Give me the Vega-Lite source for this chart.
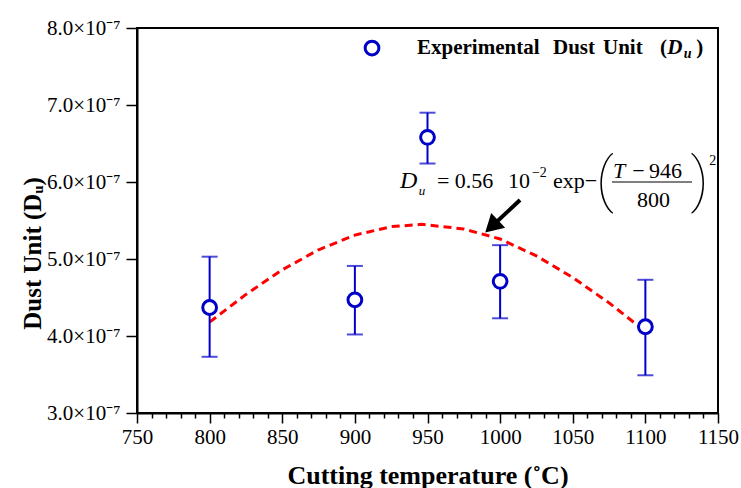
{
  "$schema": "https://vega.github.io/schema/vega-lite/v6.json",
  "width": 581,
  "height": 385,
  "autosize": {"type": "none"},
  "padding": {"left": 137, "top": 28, "right": 23, "bottom": 75},
  "background": "white",
  "config": {
    "font": "Liberation Serif",
    "view": {"stroke": "black", "strokeWidth": 2},
    "axis": {
      "domainColor": "black", "domainWidth": 2,
      "tickColor": "black", "tickWidth": 1.5,
      "labelColor": "black", "titleColor": "black",
      "labelFont": "Liberation Serif", "titleFont": "Liberation Serif",
      "grid": false
    }
  },
  "datasets": {
    "points": [
      {"T": 800, "Du": 4.37e-7, "lo": 3.73e-7, "hi": 5.03e-7},
      {"T": 900, "Du": 4.47e-7, "lo": 4.02e-7, "hi": 4.91e-7},
      {"T": 950, "Du": 6.58e-7, "lo": 6.24e-7, "hi": 6.90e-7},
      {"T": 1000, "Du": 4.71e-7, "lo": 4.23e-7, "hi": 5.18e-7},
      {"T": 1100, "Du": 4.12e-7, "lo": 3.49e-7, "hi": 4.73e-7}
    ],
    "curve": [
      {"T": 800, "Du": 4.18e-7}, {"T": 825, "Du": 4.54e-7}, {"T": 850, "Du": 4.86e-7},
      {"T": 875, "Du": 5.12e-7}, {"T": 900, "Du": 5.31e-7}, {"T": 925, "Du": 5.42e-7},
      {"T": 946, "Du": 5.45e-7}, {"T": 975, "Du": 5.39e-7}, {"T": 1000, "Du": 5.26e-7},
      {"T": 1025, "Du": 5.04e-7}, {"T": 1050, "Du": 4.76e-7}, {"T": 1075, "Du": 4.43e-7},
      {"T": 1100, "Du": 4.06e-7}
    ],
    "legendSym": [{"T": 911.8, "Du": 7.74e-7}],
    "legendBold": [
      {"T": 942.8, "Du": 7.662e-7, "t": "Experimental"},
      {"T": 1036.4, "Du": 7.662e-7, "t": "Dust"},
      {"T": 1070.8, "Du": 7.662e-7, "t": "Unit"},
      {"T": 1110.0, "Du": 7.662e-7, "t": "("},
      {"T": 1135.0, "Du": 7.662e-7, "t": ")"}
    ],
    "legendBI": [{"T": 1115.0, "Du": 7.662e-7, "t": "D"}],
    "legendBIsub": [{"T": 1126.5, "Du": 7.61e-7, "t": "u"}],
    "eqRoman": [
      {"T": 956.5, "Du": 5.922e-7, "t": "= 0.56"},
      {"T": 1005.4, "Du": 5.922e-7, "t": "10"},
      {"T": 1036.4, "Du": 5.922e-7, "t": "exp−"},
      {"T": 1091.0, "Du": 6.052e-7, "t": "−"},
      {"T": 1102.5, "Du": 6.052e-7, "t": "946"},
      {"T": 1094.2, "Du": 5.67e-7, "t": "800"}
    ],
    "eqItalicBig": [
      {"T": 931.1, "Du": 5.922e-7, "t": "D"}
    ],
    "eqItalic": [
      {"T": 1077.7, "Du": 6.052e-7, "t": "T"}
    ],
    "eqItalicSmall": [{"T": 944.0, "Du": 5.831e-7, "t": "u"}],
    "eqSmall": [
      {"T": 1021.9, "Du": 6.065e-7, "t": "−2"},
      {"T": 1144.0, "Du": 6.221e-7, "t": "2"}
    ],
    "eqParen": [
      {"T": 1066.0, "Du": 5.766e-7, "t": "("},
      {"T": 1131.0, "Du": 5.766e-7, "t": ")"}
    ],
    "fracBar": [{"T": 1077.0, "T2": 1132.1, "Du": 6.0e-7}],
    "arrowShaft": [{"T": 1013.7, "Du": 5.766e-7, "T2": 994.2, "Du2": 5.423e-7}],
    "arrowHead": [{"T": 994.2, "Du": 5.423e-7}]
  },
  "layer": [
    {
      "data": {"name": "curve"},
      "mark": {"type": "line", "color": "#FF0000", "strokeWidth": 3, "strokeDash": [8, 5]},
      "encoding": {
        "x": {
          "field": "T", "type": "quantitative",
          "scale": {"domain": [750, 1150], "nice": false, "zero": false},
          "axis": {
            "orient": "bottom",
            "values": [750, 760, 770, 780, 790, 800, 810, 820, 830, 840, 850, 860, 870, 880, 890, 900, 910, 920, 930, 940, 950, 960, 970, 980, 990, 1000, 1010, 1020, 1030, 1040, 1050, 1060, 1070, 1080, 1090, 1100, 1110, 1120, 1130, 1140, 1150],
            "tickCount": 100,
            "labelExpr": "datum.value % 50 === 0 ? format(datum.value, 'd') : ''",
            "tickSize": {"condition": {"test": "datum.value % 50 === 0", "value": 10}, "value": 5},
            "labelFontSize": 21, "labelPadding": 3,
            "labelFlush": false, "labelOverlap": false,
            "title": "Cutting temperature (˚C)", "titleFontSize": 26, "titleFontWeight": "bold",
            "titleY": 70, "titleBaseline": "alphabetic"
          }
        },
        "y": {
          "field": "Du", "type": "quantitative",
          "scale": {"domain": [3e-7, 8e-7], "nice": false, "zero": false},
          "axis": {
            "values": [3e-7, 4e-7, 5e-7, 6e-7, 7e-7, 8e-7],
            "tickCount": 20,
            "labelExpr": "format(datum.value * 1e7, '.1f') + '×10⁻⁷'",
            "tickSize": 11, "labelFontSize": 21, "labelPadding": 6,
            "labelFlush": false,
            "title": "Dust Unit (Dᵤ)", "titleFontSize": 25, "titleFontWeight": "bold",
            "titleAngle": -90, "titleX": -97, "titleY": 225,
            "titleAlign": "center", "titleBaseline": "alphabetic"
          }
        }
      }
    },
    {
      "data": {"name": "points"},
      "mark": {"type": "rule", "color": "#0000C8", "strokeWidth": 2},
      "encoding": {
        "x": {"field": "T", "type": "quantitative"},
        "y": {"field": "lo", "type": "quantitative"},
        "y2": {"field": "hi"}
      }
    },
    {
      "data": {"name": "points"},
      "mark": {"type": "tick", "orient": "horizontal", "color": "#0000C8", "size": 16, "thickness": 2},
      "encoding": {
        "x": {"field": "T", "type": "quantitative"},
        "y": {"field": "lo", "type": "quantitative"}
      }
    },
    {
      "data": {"name": "points"},
      "mark": {"type": "tick", "orient": "horizontal", "color": "#0000C8", "size": 16, "thickness": 2},
      "encoding": {
        "x": {"field": "T", "type": "quantitative"},
        "y": {"field": "hi", "type": "quantitative"}
      }
    },
    {
      "data": {"name": "points"},
      "mark": {"type": "point", "shape": "circle", "filled": false, "fill": "white", "fillOpacity": 1, "color": "#0000C8", "strokeWidth": 3, "size": 190, "opacity": 1},
      "encoding": {
        "x": {"field": "T", "type": "quantitative"},
        "y": {"field": "Du", "type": "quantitative"}
      }
    },
    {
      "data": {"name": "legendSym"},
      "mark": {"type": "point", "shape": "circle", "filled": false, "fill": "white", "fillOpacity": 1, "color": "#0000C8", "strokeWidth": 3, "size": 190, "opacity": 1},
      "encoding": {
        "x": {"field": "T", "type": "quantitative"},
        "y": {"field": "Du", "type": "quantitative"}
      }
    },
    {
      "data": {"name": "legendBold"},
      "mark": {"type": "text", "align": "left", "baseline": "alphabetic", "font": "Liberation Serif", "fontWeight": "bold", "fontSize": 21, "color": "black"},
      "encoding": {
        "x": {"field": "T", "type": "quantitative"},
        "y": {"field": "Du", "type": "quantitative"},
        "text": {"field": "t"}
      }
    },
    {
      "data": {"name": "legendBI"},
      "mark": {"type": "text", "align": "left", "baseline": "alphabetic", "font": "Liberation Serif", "fontWeight": "bold", "fontStyle": "italic", "fontSize": 21, "color": "black"},
      "encoding": {
        "x": {"field": "T", "type": "quantitative"},
        "y": {"field": "Du", "type": "quantitative"},
        "text": {"field": "t"}
      }
    },
    {
      "data": {"name": "legendBIsub"},
      "mark": {"type": "text", "align": "left", "baseline": "alphabetic", "font": "Liberation Serif", "fontWeight": "bold", "fontStyle": "italic", "fontSize": 14, "color": "black"},
      "encoding": {
        "x": {"field": "T", "type": "quantitative"},
        "y": {"field": "Du", "type": "quantitative"},
        "text": {"field": "t"}
      }
    },
    {
      "data": {"name": "eqRoman"},
      "mark": {"type": "text", "align": "left", "baseline": "alphabetic", "font": "Liberation Serif", "fontSize": 22, "color": "black"},
      "encoding": {
        "x": {"field": "T", "type": "quantitative"},
        "y": {"field": "Du", "type": "quantitative"},
        "text": {"field": "t"}
      }
    },
    {
      "data": {"name": "eqItalicBig"},
      "mark": {"type": "text", "align": "left", "baseline": "alphabetic", "font": "Liberation Serif", "fontStyle": "italic", "fontSize": 24, "color": "black"},
      "encoding": {
        "x": {"field": "T", "type": "quantitative"},
        "y": {"field": "Du", "type": "quantitative"},
        "text": {"field": "t"}
      }
    },
    {
      "data": {"name": "eqItalic"},
      "mark": {"type": "text", "align": "left", "baseline": "alphabetic", "font": "Liberation Serif", "fontStyle": "italic", "fontSize": 22, "color": "black"},
      "encoding": {
        "x": {"field": "T", "type": "quantitative"},
        "y": {"field": "Du", "type": "quantitative"},
        "text": {"field": "t"}
      }
    },
    {
      "data": {"name": "eqItalicSmall"},
      "mark": {"type": "text", "align": "left", "baseline": "alphabetic", "font": "Liberation Serif", "fontStyle": "italic", "fontSize": 13, "color": "black"},
      "encoding": {
        "x": {"field": "T", "type": "quantitative"},
        "y": {"field": "Du", "type": "quantitative"},
        "text": {"field": "t"}
      }
    },
    {
      "data": {"name": "eqSmall"},
      "mark": {"type": "text", "align": "left", "baseline": "alphabetic", "font": "Liberation Serif", "fontSize": 14, "color": "black"},
      "encoding": {
        "x": {"field": "T", "type": "quantitative"},
        "y": {"field": "Du", "type": "quantitative"},
        "text": {"field": "t"}
      }
    },
    {
      "data": {"name": "eqParen"},
      "mark": {"type": "text", "align": "left", "baseline": "alphabetic", "font": "Roboto", "fontWeight": 100, "fontSize": 60, "color": "black"},
      "encoding": {
        "x": {"field": "T", "type": "quantitative"},
        "y": {"field": "Du", "type": "quantitative"},
        "text": {"field": "t"}
      }
    },
    {
      "data": {"name": "fracBar"},
      "mark": {"type": "rule", "color": "black", "strokeWidth": 1},
      "encoding": {
        "x": {"field": "T", "type": "quantitative"},
        "x2": {"field": "T2"},
        "y": {"field": "Du", "type": "quantitative"}
      }
    },
    {
      "data": {"name": "arrowShaft"},
      "mark": {"type": "rule", "color": "black", "strokeWidth": 4},
      "encoding": {
        "x": {"field": "T", "type": "quantitative"},
        "x2": {"field": "T2"},
        "y": {"field": "Du", "type": "quantitative"},
        "y2": {"field": "Du2"}
      }
    },
    {
      "data": {"name": "arrowHead"},
      "mark": {"type": "point", "shape": "triangle-up", "filled": true, "color": "black", "size": 420, "angle": 227, "opacity": 1},
      "encoding": {
        "x": {"field": "T", "type": "quantitative"},
        "y": {"field": "Du", "type": "quantitative"}
      }
    }
  ]
}
